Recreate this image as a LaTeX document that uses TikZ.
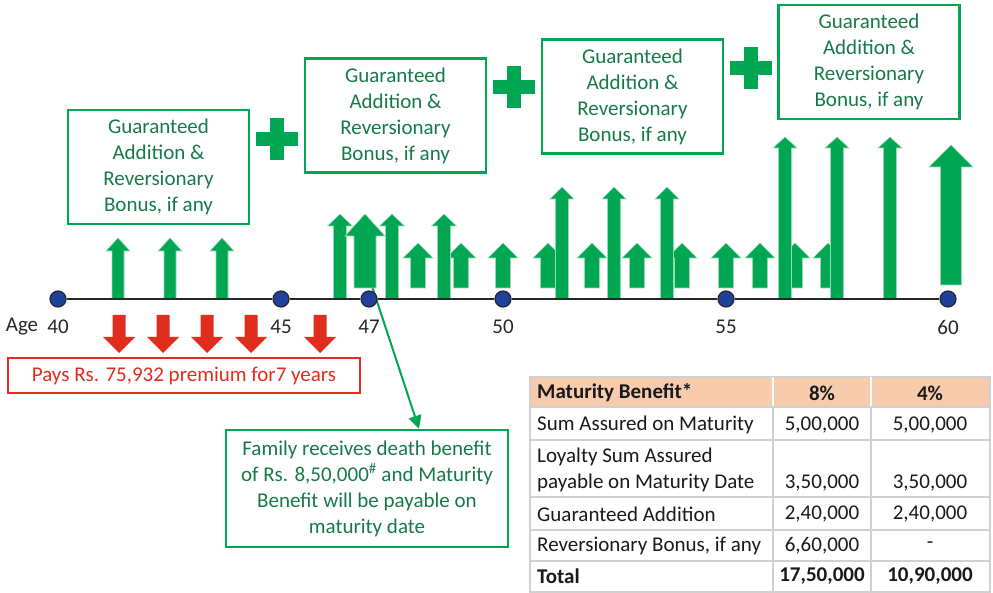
\documentclass[tikz,border=0pt]{standalone}
\usepackage{fontspec}
\setmainfont{Carlito}
\usetikzlibrary{arrows.meta,calc}

\definecolor{arrowgreen}{RGB}{0,166,81}
\definecolor{edgegreen}{RGB}{150,218,178}
\definecolor{boxtext}{RGB}{22,122,72}
\definecolor{payred}{RGB}{224,45,30}
\definecolor{dotblue}{RGB}{31,64,155}
\definecolor{peach}{RGB}{248,203,173}
\definecolor{gridgray}{RGB}{208,208,208}

\newcommand{\bigtext}{\fontsize{21}{26}\selectfont}
% x, tip, head base, bottom, half head, half shaft
\newcommand{\gup}[6]{\filldraw[garrow] (#1-#6,#4) -- (#1-#6,#3) -- (#1-#5,#3) -- (#1,#2) -- (#1+#5,#3) -- (#1+#6,#3) -- (#1+#6,#4) -- cycle;}
\newcommand{\rdown}[1]{\fill[payred] (#1-6.5,315) -- (#1-6.5,337) -- (#1-16,337) -- (#1,353) -- (#1+16,337) -- (#1+6.5,337) -- (#1+6.5,315) -- cycle;}

\tikzset{
    garrow/.style={fill=arrowgreen, draw=edgegreen, line width=0.6pt},
    bonusbox/.style={draw=arrowgreen, line width=2.5pt, text=boxtext, font=\bigtext,
        minimum width=181pt, minimum height=114pt, align=center, inner sep=0pt},
    agedot/.style={circle, fill=dotblue, draw=black!85, line width=1.2pt, minimum size=16pt, inner sep=0pt},
    agelabel/.style={font=\bigtext, text=black!85, inner sep=0pt},
    cell/.style={font=\bigtext, text=black!90, inner sep=0pt},
    tgrid/.style={draw=gridgray, line width=1.5pt},
}

\begin{document}
\begin{tikzpicture}[x=1pt, y=-1pt]
    \useasboundingbox (0,0) rectangle (993,593);

    % bonus boxes and plus signs
    \node[bonusbox] (bonusa) at (158.5,167) {Guaranteed\\Addition \&\\Reversionary\\Bonus, if any};
    \node[bonusbox] (bonusb) at (395.5,115.5) {Guaranteed\\Addition \&\\Reversionary\\Bonus, if any};
    \node[bonusbox] (bonusc) at (632.5,96.5) {Guaranteed\\Addition \&\\Reversionary\\Bonus, if any};
    \node[bonusbox] (bonusd) at (869,62) {Guaranteed\\Addition \&\\Reversionary\\Bonus, if any};
    \foreach \px/\py in {277/139, 514/87, 751/68} {
        \fill[arrowgreen] (\px-21,\py-7) rectangle (\px+21,\py+7);
        \fill[arrowgreen] (\px-7,\py-21) rectangle (\px+7,\py+21);
    }

    % death benefit box and its pointer
    \node[draw=arrowgreen, line width=2.5pt, text=boxtext, font=\bigtext, align=center,
        minimum width=282pt, minimum height=117pt, inner sep=0pt] (death) at (367,488.5)
        {Family receives death benefit\\of Rs. 8,50,000\textsuperscript{\#} and Maturity\\Benefit will be payable on\\maturity date};
    \coordinate (deathfrom) at (364,262);
    \draw[arrowgreen, line width=2pt, -{Triangle[width=13pt,length=13pt]}] (deathfrom) -- ($(death.north)+(52,0)$);

    % bonus arrows
    \foreach \x in {118,170,222} {\gup{\x}{238}{251}{299}{12}{6}}
    \foreach \x in {418,461,503,548,592,637,682,726,760,795,828} {\gup{\x}{243}{258}{288}{15}{7.5}}
    \foreach \x in {340,392,444} {\gup{\x}{214}{226}{299}{12.5}{6.5}}
    \foreach \x in {562,614,667} {\gup{\x}{187}{199}{299}{12}{6.5}}
    \foreach \x in {785,837,890} {\gup{\x}{137}{148}{299}{12}{6.5}}
    \gup{365}{214}{236}{288}{20}{11}
    \gup{951}{145}{167}{285}{22}{10.5}

    % premium arrows
    \foreach \x in {119,163,207,251,320} {\rdown{\x}}
    \node[draw=payred, line width=2pt, text=payred, font=\bigtext, minimum width=352pt,
        minimum height=35pt, inner sep=0pt] (premium) at (184,375.5) {Pays Rs. 75,932 premium for7 years};

    % timeline
    \node[agedot] (d40) at (58,299) {};
    \node[agedot] (d45) at (281,299) {};
    \node[agedot] (d47) at (369,299) {};
    \node[agedot] (d50) at (503,299) {};
    \node[agedot] (d55) at (726,299) {};
    \node[agedot] (d60) at (948,299) {};
    \draw[black!85, line width=2.5pt] (d40) -- (d45) (d45) -- (d47) (d47) -- (d50) (d50) -- (d55) (d55) -- (d60);
    \node[agelabel] (agetxt) at (22,327) {Age};
    \node[agelabel] (a40) at (58,327) {40};
    \node[agelabel] (a45) at (281,327) {45};
    \node[agelabel] (a47) at (369,327) {47};
    \node[agelabel] (a50) at (503,327) {50};
    \node[agelabel] (a55) at (726,327) {55};
    \node[agelabel] (a60) at (948,327) {60};

    % maturity table
    \fill[peach] (530,377) rectangle (990,407);
    \draw[tgrid] (530,377) rectangle (990,592);
    \foreach \ry in {407,440,497,530,561} {\draw[tgrid] (530,\ry) -- (990,\ry);}
    \draw[tgrid] (773,407) -- (773,592);
    \draw[tgrid] (871,407) -- (871,592);
    \draw[white, line width=2pt] (773,377) -- (773,406);
    \draw[white, line width=2pt] (871,377) -- (871,406);

    \node[cell, anchor=west] (hname) at (537,393) {\textbf{Maturity Benefit*}};
    \node[cell] (height) at (822,393) {\textbf{8\%}};
    \node[cell] (hfour) at (930,393) {\textbf{4\%}};
    \node[cell, anchor=west] (samname) at (537,425) {Sum Assured on Maturity};
    \node[cell] (sameight) at (822,425) {5,00,000};
    \node[cell] (samfour) at (930,425) {5,00,000};
    \node[cell, anchor=west, align=left] (lsaname) at (537,470) {Loyalty Sum Assured\\payable on Maturity Date};
    \node[cell] (lsaeight) at (822,483) {3,50,000};
    \node[cell] (lsafour) at (930,483) {3,50,000};
    \node[cell, anchor=west] (ganame) at (537,514) {Guaranteed Addition};
    \node[cell] (gaeight) at (822,514) {2,40,000};
    \node[cell] (gafour) at (930,514) {2,40,000};
    \node[cell, anchor=west] (rbname) at (537,545.5) {Reversionary Bonus, if any};
    \node[cell] (rbeight) at (822,545.5) {6,60,000};
    \node[cell] (rbfour) at (930,545.5) {-};
    \node[cell, anchor=west] (totname) at (537,576.5) {\textbf{Total}};
    \node[cell] (toteight) at (822,576.5) {\textbf{17,50,000}};
    \node[cell] (totfour) at (930,576.5) {\textbf{10,90,000}};
\end{tikzpicture}
\end{document}
